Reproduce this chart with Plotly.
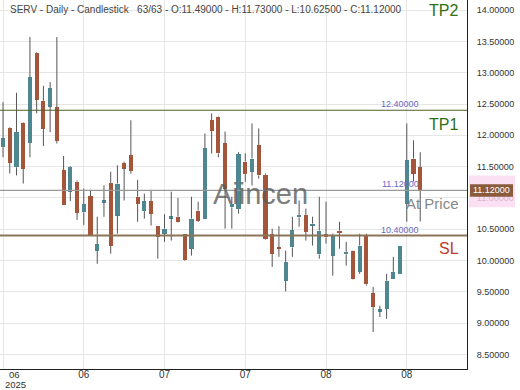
import plotly.graph_objects as go

# ---- data ----
opens = [11.81, 12.12, 11.49, 12.20, 11.88, 13.32, 12.55, 12.46, 12.45, 11.44,
         11.10, 11.26, 10.77, 11.03, 10.16, 10.93, 11.24, 10.72, 11.56, 11.68,
         11.02, 10.79, 10.95, 10.56, 10.43, 10.68, 10.70, 10.43, 10.19, 10.80,
         10.67, 12.24, 12.29, 11.87, 10.85, 10.82, 11.58, 11.42, 11.84, 11.37,
         10.42, 10.20, 9.68, 10.21, 10.69, 10.73, 10.56, 10.10, 10.42, 10.08,
         10.48, 10.10, 10.15, 9.82, 10.40, 9.48, 9.19, 9.23, 9.71, 9.79,
         10.91, 11.63, 11.49]
highs = [12.53, 12.13, 12.68, 12.21, 13.57, 13.33, 12.79, 12.85, 13.57, 11.67,
         11.51, 11.28, 11.15, 11.13, 10.70, 11.20, 11.42, 11.52, 11.58, 12.24,
         11.29, 11.07, 11.13, 10.56, 10.74, 11.10, 11.00, 10.43, 11.02, 10.94,
         12.03, 12.35, 12.30, 12.06, 11.02, 11.73, 11.71, 12.19, 12.11, 11.39,
         10.51, 10.55, 10.16, 10.70, 10.96, 10.83, 10.70, 11.02, 10.94, 10.43,
         10.62, 10.30, 10.16, 10.43, 10.43, 9.58, 9.28, 9.79, 10.06, 10.24,
         12.19, 11.92, 11.73]
lows = [11.65, 11.39, 11.36, 11.23, 11.65, 12.35, 11.83, 12.05, 11.87, 10.88,
        10.95, 10.65, 10.57, 10.39, 9.95, 10.70, 10.11, 10.43, 10.96, 11.39,
        10.62, 10.67, 10.56, 10.03, 10.30, 10.32, 10.61, 10.00, 10.08, 10.62,
        10.67, 11.71, 11.65, 10.51, 10.51, 10.75, 11.26, 11.20, 11.31, 10.33,
        9.90, 10.06, 9.51, 10.06, 10.54, 10.32, 10.24, 10.03, 10.27, 9.76,
        10.19, 9.92, 9.70, 9.79, 9.60, 8.86, 9.10, 9.07, 9.71, 9.79,
        10.62, 11.26, 10.625]
closes = [11.95, 11.56, 12.05, 11.47, 12.93, 12.57, 12.10, 12.75, 11.91, 10.88,
          11.50, 10.76, 10.90, 10.40, 10.26, 10.95, 10.24, 11.23, 11.47, 11.43,
          10.90, 10.95, 10.75, 10.38, 10.51, 10.69, 10.62, 10.01, 10.67, 10.64,
          11.79, 12.07, 11.71, 11.15, 10.91, 11.70, 11.38, 11.63, 11.36, 10.34,
          10.11, 10.19, 9.98, 10.49, 10.73, 10.46, 10.59, 10.48, 10.37, 10.40,
          10.44, 10.14, 9.71, 10.24, 9.62, 9.26, 9.21, 9.68, 9.82, 10.24,
          11.60, 11.39, 11.12]

x_tick_index = [0, 12, 24, 36, 48, 60]
x_tick_text = ["", "06", "07", "07", "08", "08"]
first_tick_month = "06"
first_tick_year = "2025"
price_ticks = [8.5, 9.0, 9.5, 10.0, 10.5, 11.0, 11.5, 12.0, 12.5, 13.0, 13.5, 14.0]

tp1_level = 12.40
current_level = 11.12
sl_level = 10.40

title_text = ("SERV - Daily - Candlestick\u00a0\u00a0\u00a063/63 - O:11.49000 - "
              "H:11.73000 - L:10.62500 - C:11.12000")
watermark = "Aiincen"

# ---- build ----
UP = "#4f8790"
DOWN = "#a5553a"
WICK = "#555555"

n = len(opens)
idx = list(range(n))

wx, wy = [], []
for i in idx:
    top = max(opens[i], closes[i])
    bot = min(opens[i], closes[i])
    wx += [i, i, None, i, i, None]
    wy += [highs[i], top, None, bot, lows[i], None]

bases = [min(o, c) for o, c in zip(opens, closes)]
heights = [max(abs(c - o), 0.03) for o, c in zip(opens, closes)]
colors = [UP if c >= o else DOWN for o, c in zip(opens, closes)]

fig = go.Figure()
fig.add_trace(go.Scatter(x=wx, y=wy, mode="lines",
                         line=dict(color=WICK, width=1), hoverinfo="skip",
                         showlegend=False))
fig.add_trace(go.Bar(x=idx, y=heights, base=bases, width=0.62,
                     marker=dict(color=colors, line=dict(width=0)),
                     showlegend=False))

PW = 467.0
PH = 369.0

shapes = [
    dict(type="line", xref="paper", x0=0, x1=1, yref="y", y0=tp1_level, y1=tp1_level,
         line=dict(color="#4f5f2a", width=1.2)),
    dict(type="line", xref="paper", x0=0, x1=1, yref="y", y0=current_level, y1=current_level,
         line=dict(color="#999999", width=1.2)),
    dict(type="line", xref="paper", x0=0, x1=1, yref="y", y0=sl_level, y1=sl_level,
         line=dict(color="#8c7458", width=2)),
    # right-axis price tag
    dict(type="rect", xref="paper", x0=1 + 2 / PW, x1=1 + 48 / PW, yref="y",
         y0=current_level - 0.27, y1=current_level + 0.24,
         fillcolor="rgba(250,215,240,0.8)", line=dict(width=0), layer="above"),
    dict(type="rect", xref="paper", x0=1 + 3 / PW, x1=1 + 46 / PW, yref="y",
         y0=current_level - 0.10, y1=current_level + 0.10,
         fillcolor="#8a5a3c", line=dict(width=0), layer="above"),
]

annotations = [
    dict(text=title_text, xref="paper", yref="paper", x=8 / PW, y=1 - 9 / PH,
         xanchor="left", yanchor="middle", showarrow=False,
         font=dict(size=10, color="#444444")),
    dict(text=first_tick_month, xref="x", yref="paper", x=0, y=0, xanchor="left",
         yanchor="middle", yshift=-5, xshift=5, showarrow=False, borderpad=0,
         font=dict(size=9.5, color="#333333")),
    dict(text=first_tick_year, xref="x", yref="paper", x=0, y=0, xanchor="left",
         yanchor="middle", yshift=-15, xshift=1, showarrow=False, borderpad=0,
         font=dict(size=9.5, color="#333333")),
    dict(text=watermark, xref="paper", yref="y", x=260 / PW, y=11.07,
         xanchor="center", yanchor="middle", showarrow=False,
         font=dict(size=29, color="rgba(90,90,90,0.8)")),
    dict(text="TP2", xref="paper", yref="paper", x=460 / PW, y=1 - 10 / PH,
         xanchor="right", yanchor="middle", showarrow=False,
         font=dict(size=16, color="#2f6e14")),
    dict(text="TP1", xref="paper", yref="y", x=460 / PW, y=tp1_level, yshift=-14,
         xanchor="right", yanchor="middle", showarrow=False,
         font=dict(size=16, color="#2f6e14")),
    dict(text=f"{tp1_level:.5f}", xref="paper", yref="y", x=421 / PW, y=tp1_level,
         yshift=6, xanchor="right", yanchor="middle", showarrow=False,
         font=dict(size=9, color="#6a6ac0")),
    dict(text=f"{current_level:.5f}", xref="paper", yref="y", x=421 / PW, y=current_level,
         yshift=6, xanchor="right", yanchor="middle", showarrow=False,
         font=dict(size=9, color="#6a6ac0")),
    dict(text="At Price", xref="paper", yref="y", x=461 / PW, y=current_level,
         yshift=-13, xanchor="right", yanchor="middle", showarrow=False,
         font=dict(size=15, color="#888888")),
    dict(text=f"{sl_level:.5f}", xref="paper", yref="y", x=421 / PW, y=sl_level,
         yshift=6, xanchor="right", yanchor="middle", showarrow=False,
         font=dict(size=9, color="#6a6ac0")),
    dict(text="SL", xref="paper", yref="y", x=461 / PW, y=sl_level, yshift=-13,
         xanchor="right", yanchor="middle", showarrow=False,
         font=dict(size=16, color="#c0392b")),
    dict(text=f"{current_level:.5f}", xref="paper", yref="y", x=1 + 24.5 / PW,
         y=current_level, xanchor="center", yanchor="middle", showarrow=False,
         font=dict(size=9, color="#ffffff")),
]

fig.update_layout(
    width=520, height=390,
    margin=dict(l=0, r=53, t=0, b=21),
    paper_bgcolor="white", plot_bgcolor="white",
    font=dict(family="Liberation Sans, Arial, sans-serif"),
    barmode="overlay", bargap=0,
    shapes=shapes, annotations=annotations,
    showlegend=False,
)
fig.update_xaxes(range=[-0.45, 68.95], tickvals=x_tick_index, ticktext=x_tick_text,
                 showgrid=True, gridcolor="#e6e6e6", gridwidth=1, zeroline=False,
                 showline=True, linecolor="#222222", linewidth=1,
                 ticklabelstandoff=-4,
                 tickfont=dict(size=10, color="#333333"), ticks="")
fig.update_yaxes(range=[8.27, 14.16], side="right", tickvals=price_ticks,
                 ticktext=[f"{v:.5f}" for v in price_ticks],
                 showgrid=True, gridcolor="#e6e6e6", gridwidth=1, zeroline=False,
                 showline=True, linecolor="#222222", linewidth=1,
                 ticks="outside", ticklen=7, tickcolor="rgba(0,0,0,0)",
                 tickfont=dict(size=9, color="#333333"))

fig.write_html("out.html")
